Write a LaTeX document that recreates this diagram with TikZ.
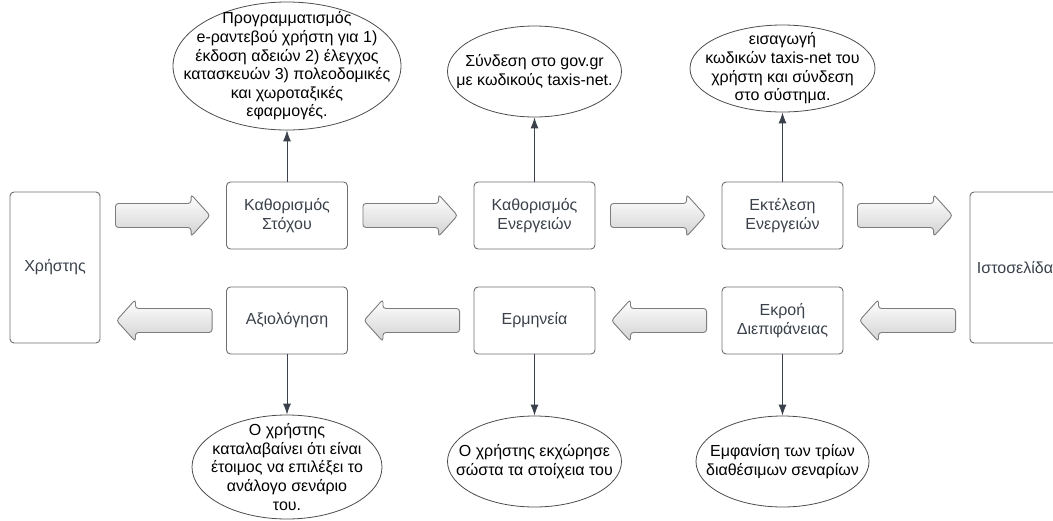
\documentclass[tikz,border=0pt]{standalone}
\usepackage{fontspec}
\setmainfont{Liberation Sans}
\usetikzlibrary{arrows.meta,shapes.geometric,calc}

\definecolor{boxline}{HTML}{6E6E6E}
\definecolor{boxtext}{HTML}{3A414A}
\definecolor{linkcol}{HTML}{3A414A}
\definecolor{arrowline}{HTML}{7C7C7C}
\definecolor{arrowfill}{HTML}{D2D2D2}

\tikzset{
  stagebox/.style={draw=boxline, line width=0.9pt, rounded corners=4pt,
    text=boxtext, align=center, inner sep=0pt,
    font=\fontsize{16}{19}\selectfont},
  sidebox/.style={stagebox, minimum width=90pt, minimum height=151pt},
  procbox/.style={stagebox, minimum width=121pt, minimum height=67pt},
  note/.style={ellipse, draw=black!70, line width=0.8pt, inner sep=0pt},
  notetext/.style={align=center, inner sep=0pt, text=black,
    font=\fontsize{16}{18.6}\selectfont},
  link/.style={draw=linkcol, line width=0.9pt, -{Latex[length=11pt,width=8pt]}},
  fatarrow/.style={draw=arrowline, line width=0.9pt, top color=white,
    bottom color=arrowfill, rounded corners=3pt},
}

% block arrow from tail point #1 to tip point #2 (same height)
\newcommand\fatarrow[2]{%
  \path[fatarrow] let \p1=(#1), \p2=(#2), \n1={sign(\x2-\x1)} in
    (\x1,\y1+12pt) -- ({\x2-19pt*\n1},\y1+12pt) -- ({\x2-19pt*\n1},\y1+21pt)
    -- (\x2,\y1) -- ({\x2-19pt*\n1},\y1-21pt) -- ({\x2-19pt*\n1},\y1-12pt)
    -- (\x1,\y1-12pt) -- cycle;}

\begin{document}
\begin{tikzpicture}[x=1pt, y=-1pt]
\path[use as bounding box] (0,0) rectangle (1053,520);

% side boxes
\node[sidebox] (user) at (55,267.5) {Χρήστης};
\node[sidebox] (web) at (1015,267.5) {Ιστοσελίδα};

% process boxes
\node[procbox] (goal) at (287,215.5) {Καθορισμός\\Στόχου};
\node[procbox] (act) at (534.5,215.5) {Καθορισμός\\Ενεργειών};
\node[procbox] (exec) at (782.5,215.5) {Εκτέλεση\\Ενεργειών};
\node[procbox] (eval) at (287,320.5) {Αξιολόγηση};
\node[procbox] (interp) at (534.5,320.5) {Ερμηνεία};
\node[procbox] (out) at (782.5,320.5) {Εκροή\\Διεπιφάνειας};

% notes
\node[note, minimum width=228pt, minimum height=128pt,
  label={[notetext]center:{Προγραμματισμός\\e-ραντεβού χρήστη για 1)\\έκδοση αδειών 2) έλεγχος\\κατασκευών 3) πολεοδομικές\\και χωροταξικές\\εφαρμογές.}}]
  (e1) at (287,66) {};
\node[note, minimum width=174pt, minimum height=91pt,
  label={[notetext]center:{Σύνδεση στο gov.gr\\με κωδικούς taxis-net.}}]
  (e2) at (534.5,71.5) {};
\node[note, minimum width=185pt, minimum height=87pt,
  label={[notetext]center:{εισαγωγή\\κωδικών taxis-net του\\χρήστη και σύνδεση\\στο σύστημα.}}]
  (e3) at (782.5,68.5) {};
\node[note, minimum width=190pt, minimum height=104pt,
  label={[notetext]center:{Ο χρήστης\\καταλαβαίνει ότι είναι\\έτοιμος να επιλέξει το\\ανάλογο σενάριο\\του.}}]
  (e4) at (287,467) {};
\node[note, minimum width=174pt, minimum height=91pt,
  label={[notetext]center:{Ο χρήστης εκχώρησε\\σώστα τα στοίχεια του}}]
  (e5) at (534.5,461.5) {};
\node[note, minimum width=173pt, minimum height=91pt,
  label={[notetext]center:{Εμφανίση των τρίων\\διαθέσιμων σεναρίων}}]
  (e6) at (782.5,461.5) {};

% links to notes
\draw[link] (goal) -- (e1);
\draw[link] (act) -- (e2);
\draw[link] (exec) -- (e3);
\draw[link] (eval) -- (e4);
\draw[link] (interp) -- (e5);
\draw[link] (out) -- (e6);

% forward flow
\fatarrow{$(user.east |- goal.west)+(15,0)$}{$(goal.west)+(-16,0)$}
\fatarrow{$(goal.east)+(15,0)$}{$(act.west)+(-16,0)$}
\fatarrow{$(act.east)+(15,0)$}{$(exec.west)+(-16,0)$}
\fatarrow{$(exec.east)+(14,0)$}{$(web.west |- exec.east)+(-17,0)$}

% return flow
\fatarrow{$(web.west |- out.east)+(-14,0)$}{$(out.east)+(16,0)$}
\fatarrow{$(out.west)+(-15,0)$}{$(interp.east)+(16,0)$}
\fatarrow{$(interp.west)+(-14,0)$}{$(eval.east)+(16,0)$}
\fatarrow{$(eval.west)+(-14,0)$}{$(user.east |- eval.west)+(16,0)$}
\end{tikzpicture}
\end{document}
